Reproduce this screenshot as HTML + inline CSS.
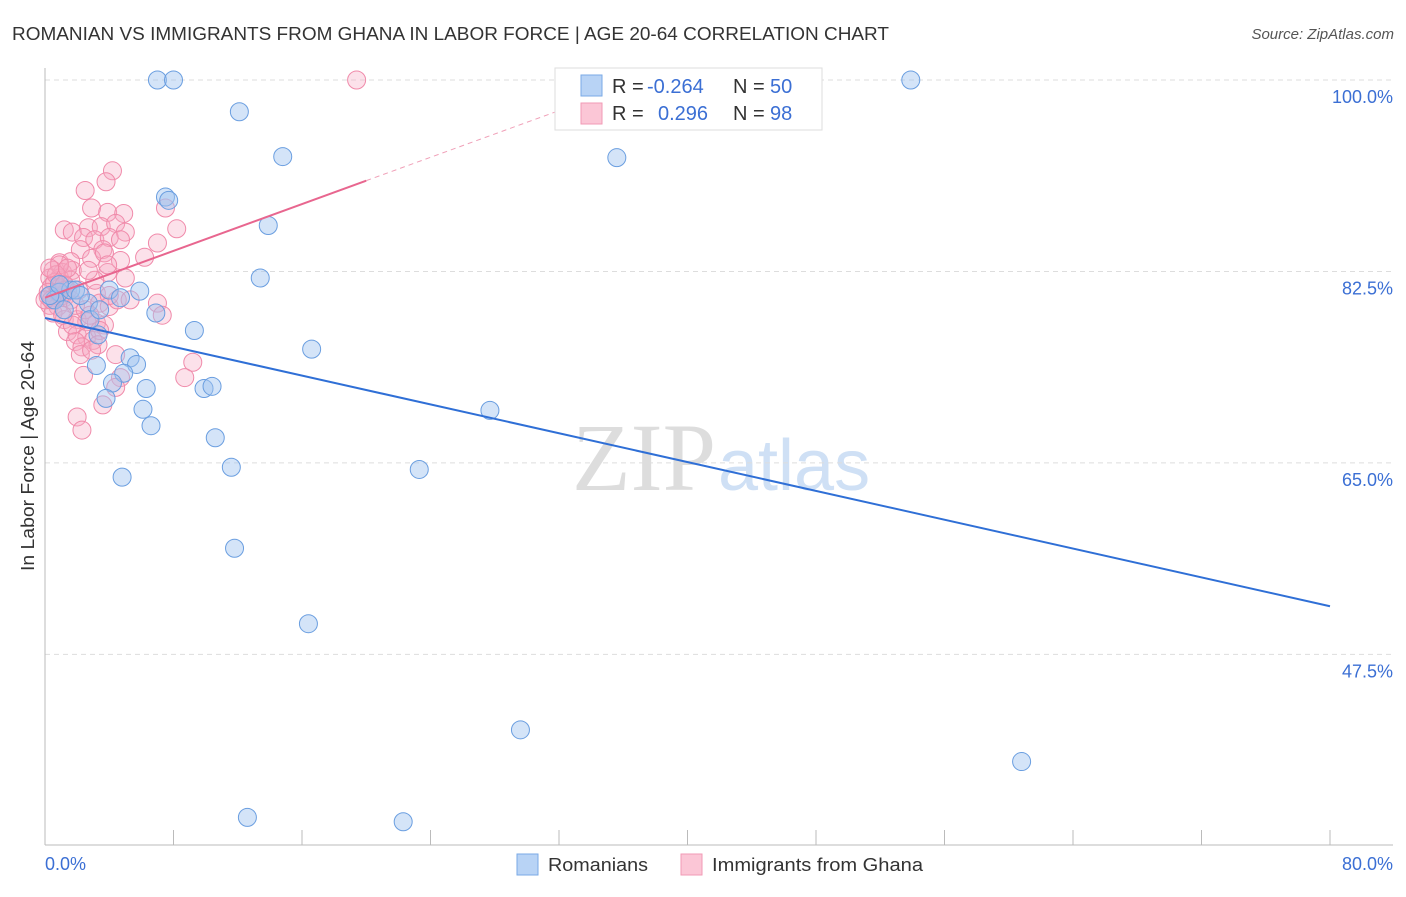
<!DOCTYPE html>
<html><head><meta charset="utf-8"><style>
body{margin:0;background:#fff;font-family:"Liberation Sans",sans-serif}
</style></head><body>
<svg id="c" width="1406" height="892" xmlns="http://www.w3.org/2000/svg">
<text x="12" y="40" font-size="18" fill="#333" textLength="877" lengthAdjust="spacingAndGlyphs">ROMANIAN VS IMMIGRANTS FROM GHANA IN LABOR FORCE | AGE 20-64 CORRELATION CHART</text>
<text x="1394" y="39" font-size="15" fill="#555" font-style="italic" text-anchor="end">Source: ZipAtlas.com</text>
<text x="716" y="490" font-size="96" font-family="Liberation Serif,serif" fill="#ddd" text-anchor="end">ZIP</text>
<text x="718" y="490" font-size="72" fill="#cfe0f5">atlas</text>
<g id="grid"></g><g id="axes"></g><g id="marks"></g><g id="lines"></g>
<text transform="translate(34,456) rotate(-90)" font-size="18" fill="#333" text-anchor="middle" textLength="230" lengthAdjust="spacingAndGlyphs">In Labor Force | Age 20-64</text>
<g>
<rect x="555" y="68" width="267" height="62" fill="#fff" stroke="#ddd"/>
<rect x="581" y="75" width="21" height="21" fill="#b8d3f5" stroke="#7aaae6"/>
<rect x="581" y="103" width="21" height="21" fill="#fbc6d6" stroke="#f29ab5"/>
<text x="612" y="93" font-size="20" fill="#333">R = <tspan x="647" fill="#3b6fd4">-0.264</tspan><tspan x="733">N = </tspan><tspan x="770" fill="#3b6fd4">50</tspan></text>
<text x="612" y="120" font-size="20" fill="#333">R = <tspan x="658" fill="#3b6fd4">0.296</tspan><tspan x="733">N = </tspan><tspan x="770" fill="#3b6fd4">98</tspan></text>
</g>
<g>
<rect x="517" y="854" width="21" height="21" fill="#b8d3f5" stroke="#7aaae6"/>
<text x="548" y="871" font-size="18" fill="#333" textLength="100" lengthAdjust="spacingAndGlyphs">Romanians</text>
<rect x="681" y="854" width="21" height="21" fill="#fbc6d6" stroke="#f29ab5"/>
<text x="712" y="871" font-size="18" fill="#333" textLength="211" lengthAdjust="spacingAndGlyphs">Immigrants from Ghana</text>
</g>
</svg>
<script>
const blueX=[7.0,8.0,53.9,12.1,14.8,35.6,7.5,7.7,13.9,13.4,5.9,4.0,0.9,1.6,2.7,6.9,9.3,3.3,16.6,5.3,5.7,3.2,4.9,4.2,6.3,9.9,10.4,3.8,6.1,27.7,6.6,10.6,11.6,23.3,4.8,11.8,16.4,29.6,60.8,12.6,22.3,1.9,2.8,0.6,4.7,0.3,1.2,2.2,3.4,0.9];
const blueY=[100,100,100,97.1,93.0,92.9,89.3,89.0,86.7,81.9,80.7,80.8,80.6,80.8,79.6,78.7,77.1,76.7,75.4,74.6,74.0,73.9,73.2,72.3,71.8,71.8,72.0,70.9,69.9,69.8,68.4,67.3,64.6,64.4,63.7,57.2,50.3,40.6,37.7,32.6,32.2,80.8,78.1,79.9,80.1,80.3,79.0,80.3,79.0,81.3];
const pinkX=[4.2,3.8,2.5,2.9,3.9,4.9,7.5,8.2,1.2,1.7,2.7,3.5,4.4,5.0,2.4,3.1,4.0,4.7,7.0,3.6,2.2,2.9,6.2,3.7,0.9,1.6,0.5,1.1,1.7,0.3,0.9,1.6,3.9,5.0,0.4,0.9,1.4,0.2,0.7,1.2,0.3,0.8,0.5,3.2,3.4,4.0,4.5,7.0,7.3,1.2,2.0,2.6,3.2,3.7,1.4,2.0,2.6,3.0,1.9,2.3,2.2,2.4,9.2,8.7,4.7,4.4,3.6,2.0,2.3,19.4,0.9,0.6,0.2,1.1,1.6,0.0,0.7,1.2,1.9,2.5,2.8,3.4,4.0,5.3,3.1,0.3,1.4,2.1,0.8,0.4,2.7,4.7,3.3,1.7,1.1,4.4,2.9,3.9];
const pinkY=[91.7,90.7,89.9,88.3,87.9,87.8,88.3,86.4,86.3,86.1,86.5,86.6,86.9,86.1,85.6,85.4,85.6,85.4,85.1,84.5,84.5,83.7,83.8,84.2,83.3,83.4,82.6,82.4,82.6,81.9,81.9,81.7,82.4,81.9,81.1,81.0,80.8,80.2,80.1,80.1,79.4,79.3,78.7,80.5,79.6,79.3,79.9,79.6,78.5,78.1,78.1,77.9,77.8,77.6,77.0,76.7,76.5,76.2,76.1,75.6,74.9,73.0,74.2,72.8,72.8,71.9,70.3,69.2,68.0,100,83.1,81.5,80.6,80.3,79.9,79.9,82.2,81.3,79.4,79.0,78.5,77.1,80.3,79.9,81.7,82.8,82.8,80.8,80.6,79.9,82.6,83.5,75.8,77.6,78.5,74.9,75.3,83.1];
const yTicks=[100,82.5,65,47.5];
const yTickLabels=["100.0%","82.5%","65.0%","47.5%"];
const xTicks=[0,8,16,24,32,40,48,56,64,72,80];
const blueTrend=[[0,78.25],[80,51.9]];
const pinkTrendSolid=[[0,80.1],[20,90.8]];
const pinkTrendDash=[[20,90.8],[32,97.2]];
const NS="http://www.w3.org/2000/svg";
const sx=v=>45+v*16.0625;
const sy=v=>80+(100-v)*10.94;
function mk(tag,attrs,parent){const e=document.createElementNS(NS,tag);for(const k in attrs)e.setAttribute(k,attrs[k]);document.getElementById(parent).appendChild(e);return e;}
yTicks.forEach((t,i)=>{
 const g=mk('line',{x1:45,x2:1393,y1:sy(t),y2:sy(t),stroke:'#ddd','stroke-dasharray':'5,4'},'grid');
 
 
 const l=mk('text',{x:1393,y:sy(t)+23,'font-size':18,fill:'#3b6fd4','text-anchor':'end'},'grid');
 l.textContent=yTickLabels[i];
 
 
});
let a=mk('line',{x1:45,x2:45,y1:68,y2:845,stroke:'#bbb'},'axes');


a=mk('line',{x1:45,x2:1393,y1:845,y2:845,stroke:'#bbb'},'axes');


xTicks.forEach(t=>{const e=mk('line',{x1:sx(t),x2:sx(t),y1:830,y2:845,stroke:'#bbb'},'axes');
 
 });
let xl=mk('text',{x:45,y:870,'font-size':18,fill:'#3b6fd4'},'axes');xl.textContent='0.0%';


xl=mk('text',{x:1393,y:870,'font-size':18,fill:'#3b6fd4','text-anchor':'end'},'axes');xl.textContent='80.0%';


pinkX.forEach((x,i)=>{const c=mk('circle',{cx:sx(x),cy:sy(pinkY[i]),r:9,fill:'rgba(246,170,195,0.35)',stroke:'#f08aaa','stroke-width':1},'marks');
 
 });
blueX.forEach((x,i)=>{const c=mk('circle',{cx:sx(x),cy:sy(blueY[i]),r:9,fill:'rgba(160,196,240,0.45)',stroke:'#6a9ee0','stroke-width':1},'marks');
 
 });
let ln=mk('line',{x1:sx(blueTrend[0][0]),y1:sy(blueTrend[0][1]),x2:sx(blueTrend[1][0]),y2:sy(blueTrend[1][1]),stroke:'#2f6fd6','stroke-width':2},'lines');


ln=mk('line',{x1:sx(pinkTrendSolid[0][0]),y1:sy(pinkTrendSolid[0][1]),x2:sx(pinkTrendSolid[1][0]),y2:sy(pinkTrendSolid[1][1]),stroke:'#e8668f','stroke-width':2},'lines');


ln=mk('line',{x1:sx(pinkTrendDash[0][0]),y1:sy(pinkTrendDash[0][1]),x2:sx(pinkTrendDash[1][0]),y2:sy(pinkTrendDash[1][1]),stroke:'#f0a0b8','stroke-width':1,'stroke-dasharray':'5,4'},'lines');


</script>
</body></html>
